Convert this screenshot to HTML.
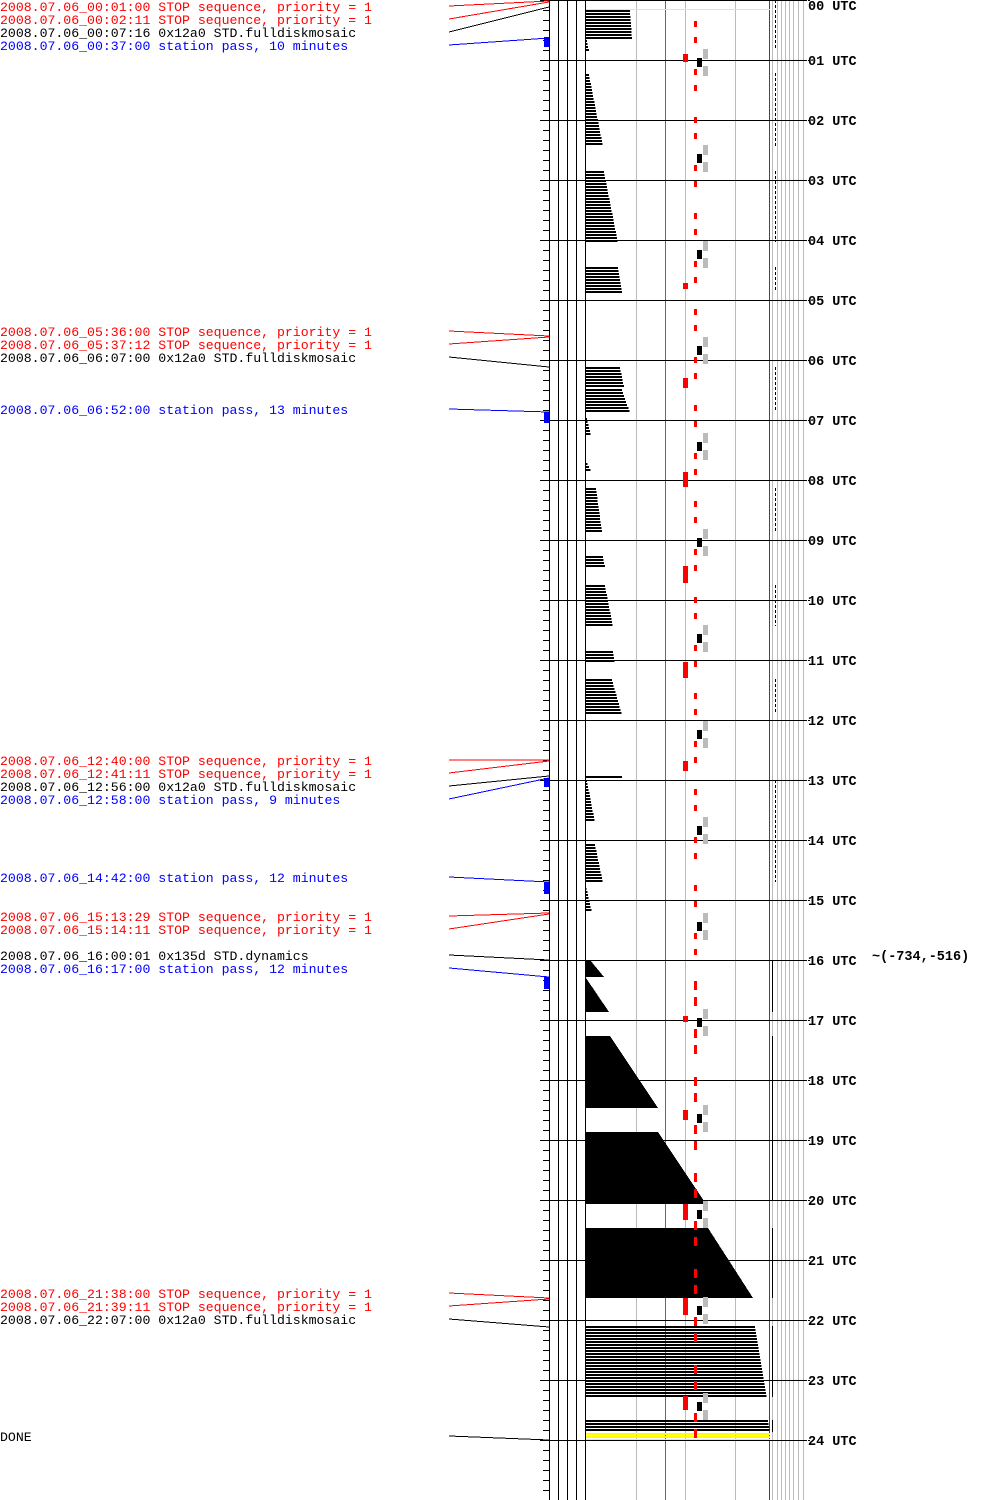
<!DOCTYPE html>
<html><head><meta charset="utf-8"><style>
body{margin:0;background:#fff;width:1000px;height:1500px;overflow:hidden}
svg{position:absolute;left:0;top:0}
.t{font-family:"Liberation Mono",monospace;font-size:13.2px}
.u{font-family:"Liberation Mono",monospace;font-size:13.5px;font-weight:bold}
</style></head><body>
<svg id="s" width="1000" height="1500" xmlns="http://www.w3.org/2000/svg" shape-rendering="crispEdges">
<g id="g"></g>
<g class="t">
<text x="0" y="11" fill="#f00">2008.07.06_00:01:00 STOP sequence, priority = 1</text>
<text x="0" y="24" fill="#f00">2008.07.06_00:02:11 STOP sequence, priority = 1</text>
<text x="0" y="37" fill="#000">2008.07.06_00:07:16 0x12a0 STD.fulldiskmosaic</text>
<text x="0" y="50" fill="#00f">2008.07.06_00:37:00 station pass, 10 minutes</text>
<text x="0" y="336" fill="#f00">2008.07.06_05:36:00 STOP sequence, priority = 1</text>
<text x="0" y="349" fill="#f00">2008.07.06_05:37:12 STOP sequence, priority = 1</text>
<text x="0" y="362" fill="#000">2008.07.06_06:07:00 0x12a0 STD.fulldiskmosaic</text>
<text x="0" y="414" fill="#00f">2008.07.06_06:52:00 station pass, 13 minutes</text>
<text x="0" y="765" fill="#f00">2008.07.06_12:40:00 STOP sequence, priority = 1</text>
<text x="0" y="778" fill="#f00">2008.07.06_12:41:11 STOP sequence, priority = 1</text>
<text x="0" y="791" fill="#000">2008.07.06_12:56:00 0x12a0 STD.fulldiskmosaic</text>
<text x="0" y="804" fill="#00f">2008.07.06_12:58:00 station pass, 9 minutes</text>
<text x="0" y="882" fill="#00f">2008.07.06_14:42:00 station pass, 12 minutes</text>
<text x="0" y="921" fill="#f00">2008.07.06_15:13:29 STOP sequence, priority = 1</text>
<text x="0" y="934" fill="#f00">2008.07.06_15:14:11 STOP sequence, priority = 1</text>
<text x="0" y="960" fill="#000">2008.07.06_16:00:01 0x135d STD.dynamics</text>
<text x="0" y="973" fill="#00f">2008.07.06_16:17:00 station pass, 12 minutes</text>
<text x="0" y="1298" fill="#f00">2008.07.06_21:38:00 STOP sequence, priority = 1</text>
<text x="0" y="1311" fill="#f00">2008.07.06_21:39:11 STOP sequence, priority = 1</text>
<text x="0" y="1324" fill="#000">2008.07.06_22:07:00 0x12a0 STD.fulldiskmosaic</text>
<text x="0" y="1441" fill="#000">DONE</text>
</g>
<text class="u" x="872" y="960">~(-734,-516)</text>
<g id="lab" class="u"></g>
</svg>
<script>
var g=document.getElementById('g'),L=document.getElementById('lab'),NS='http://www.w3.org/2000/svg';
function el(t,a,p){var e=document.createElementNS(NS,t);for(var k in a)e.setAttribute(k,a[k]);(p||g).appendChild(e);return e;}
function R(x,y,w,h,c){el('rect',{x:x,y:y,width:w,height:h,fill:c});}
function Ln(x1,y1,x2,y2,c,w,d){var a={x1:x1,y1:y1,x2:x2,y2:y2,stroke:c,'stroke-width':w||1};if(d)a['stroke-dasharray']=d;el('line',a);}
[636,685,735].forEach(function(x){Ln(x+.5,0,x+.5,1500,'#bbb');});
Ln(665.5,0,665.5,1500,'#2e8b57');
[772,777,781,785,789,793,798,803].forEach(function(x){Ln(x+.5,0,x+.5,1500,'#bbb');});
Ln(769.5,0,769.5,1500,'#e00');
function grp(y0,y1,w0,w1){for(var y=y0;y<y1;y+=3){var w=w0+(w1-w0)*(y-y0)/Math.max(1,y1-y0);R(585,y,w,2,'#000');}}
grp(10,38,45,47);grp(40,50,2,4);grp(74,146,4,18);grp(171,242,19,33);grp(267,292,33,37);
grp(367,386,35,39);grp(389,412,37,45);grp(415,435,1,6);grp(460,472,1,7);grp(488,531,11,17);
grp(556,566,18,20);grp(585,626,20,28);grp(651,662,28,30);grp(679,714,27,37);grp(776,779,37,37);
grp(780,822,2,10);grp(844,882,10,18);grp(885,912,1,7);
grp(1326,1397,170,182);grp(1420,1432,183,185);
for(var y=1433;y<1440;y+=3)R(585,y,185,2,'#ff0');
Ln(585,9.5,770,9.5,'#ff0');
function poly(p){el('polygon',{points:p,fill:'#000'});}
poly('585,960 590,960 604,977 585,977');poly('585,978 586,978 609,1012 585,1012');
poly('585,1036 610,1036 658,1108 585,1108');poly('585,1132 658,1132 706,1204 585,1204');
poly('585,1228 708,1228 753,1298 585,1298');
[[0,50],[73,146],[171,242],[267,292],[367,412],[488,531],[585,626],[679,714],[780,882]].forEach(function(s){Ln(775.5,s[0],775.5,s[1],'#000',1,'3,2');});
[[961,1012],[1036,1200],[1228,1298],[1326,1397],[1420,1432]].forEach(function(s){Ln(772.5,s[0],772.5,s[1],'#000');});
[549,558,567,576,585].forEach(function(x){Ln(x+.5,0,x+.5,1500,'#000');});
for(var y=0;y<=1500;y+=10)Ln(543,y+.5,549,y+.5,'#000');
for(var h=0;h<=24;h++){var y=h*60+.5;Ln(540,y,805,y,'#000');Ln(805,y,810,y,'#000',1,'2,1');
 var t=el('text',{x:808,y:Math.max(h*60+5,10)},L);t.textContent=(h<10?'0':'')+h+' UTC';}
for(var k=0;k<30;k++){var y0=21+48*k;var big=y0>960;[y0,y0+16].forEach(function(y){if(y<1440)R(694,y,3,big?9:6,'#f00');});}
for(var k=0;k<15;k++){var y=58+96*k;R(697,y,5,9,'#000');R(703,y-9,5,10,'#bbb');R(703,y+8,5,10,'#bbb');}
[[54,8],[283,6],[378,10],[472,15],[566,17],[662,16],[761,10],[1016,6],[1110,10],[1204,16],[1298,17],[1396,14]].forEach(function(m){R(683,m[0],5,m[1],'#f00');});
function C(y1,y2,c){Ln(449,y1,549,y2,c);}
C(6,1,'#f00');C(19,2,'#f00');C(32,7,'#000');C(45,38,'#00f');R(544,37,5,10,'#00f');
C(331,336,'#f00');C(344,337,'#f00');C(357,367,'#000');C(409,412,'#00f');R(544,412,5,11,'#00f');
C(760,760,'#f00');C(773,761,'#f00');C(786,776,'#000');C(799,778,'#00f');R(544,778,5,9,'#00f');
C(877,882,'#00f');R(544,882,5,12,'#00f');
C(916,913,'#f00');C(929,914,'#f00');C(955,960,'#000');C(968,977,'#00f');R(544,977,5,12,'#00f');
C(1293,1298,'#f00');C(1306,1299,'#f00');C(1319,1327,'#000');C(1436,1440,'#000');
</script>
</body></html>
